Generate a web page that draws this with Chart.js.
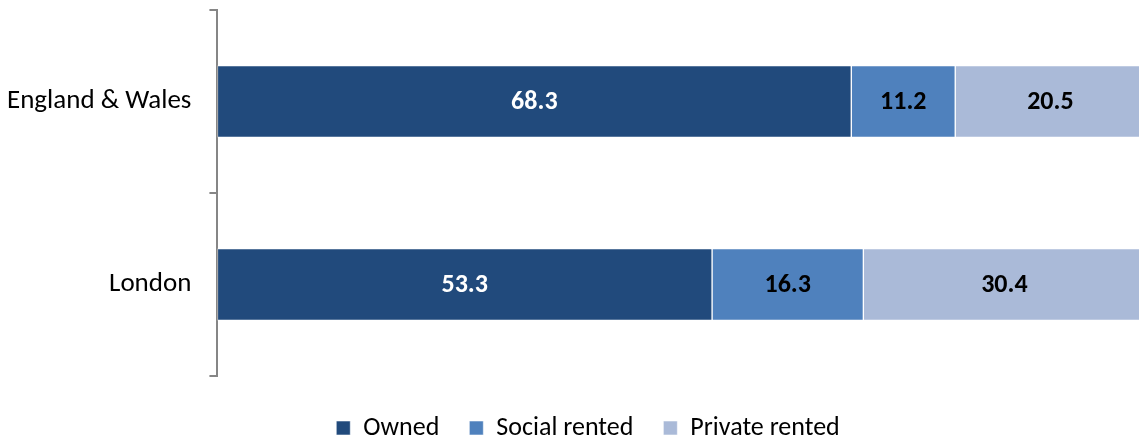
<!DOCTYPE html>
<html>
<head>
<meta charset="utf-8">
<script src="https://cdn.jsdelivr.net/npm/chart.js@4/dist/chart.umd.min.js"></script>
<style>
  html, body { margin: 0; padding: 0; background: #fff; }
  #wrap { position: relative; width: 1139px; height: 441px; }
</style>
</head>
<body>
<div id="wrap"><canvas id="chart"></canvas></div>
<script>
'use strict';

const regions = ['England & Wales', 'London'];
const owned = [68.3, 53.3];
const socialRented = [11.2, 16.3];
const privateRented = [20.5, 30.4];

const FONT = 'Carlito, Lato, "Open Sans", sans-serif';

// value labels in the middle of each segment
const barLabels = {
  id: 'barLabels',
  afterDatasetsDraw(chart) {
    const { ctx } = chart;
    ctx.save();
    ctx.font = 'bold 26px ' + FONT;
    ctx.textAlign = 'center';
    ctx.textBaseline = 'middle';
    chart.data.datasets.forEach((ds, i) => {
      chart.getDatasetMeta(i).data.forEach((bar, j) => {
        const p = bar.getCenterPoint();
        ctx.fillStyle = ds.labelColor;
        ctx.fillText(ds.data[j].toFixed(1), p.x, p.y + 1);
      });
    });
    ctx.restore();
  }
};

// the original legend sits a bit right of the page centre
const legendNudge = {
  id: 'legendNudge',
  afterLayout(chart) {
    chart.legend.left += 24;
    chart.legend.right += 24;
  }
};

new Chart(document.getElementById('chart'), {
  type: 'bar',
  data: {
    labels: regions,
    datasets: [
      { label: 'Owned', data: owned, backgroundColor: '#214a7c', labelColor: '#ffffff' },
      { label: 'Social rented', data: socialRented, backgroundColor: '#4f81bd', labelColor: '#000000' },
      { label: 'Private rented', data: privateRented, backgroundColor: '#aabad8', labelColor: '#000000' }
    ].map((d) => Object.assign(d, {
      borderColor: 'rgba(255,255,255,0.55)',
      borderWidth: 1,
      borderSkipped: false,
      barThickness: 72
    }))
  },
  options: {
    indexAxis: 'y',
    responsive: true,
    maintainAspectRatio: false,
    animation: false,
    layout: { padding: { top: 10, right: 0, left: -11, bottom: -10 } },
    plugins: {
      legend: {
        position: 'bottom',
        labels: {
          boxWidth: 14,
          boxHeight: 14,
          padding: 30,
          color: '#000',
          font: { family: FONT, size: 26 }
        }
      },
      tooltip: { enabled: false }
    },
    scales: {
      x: {
        stacked: true,
        min: 0,
        max: 99.3,
        border: { display: false },
        grid: { display: false, drawTicks: false },
        ticks: { display: false },
        // keeps a small gap between the plot and the legend
        afterFit(scale) { scale.height = 9; }
      },
      y: {
        stacked: true,
        border: { color: '#868686', width: 2 },
        grid: { offset: true, drawOnChartArea: false, tickLength: 8, color: '#868686', lineWidth: 2 },
        ticks: { color: '#000', padding: 18, font: { family: FONT, size: 27 } },
        // labels sit mid-category, so no extra room is needed above the axis
        afterFit(scale) { scale.paddingTop = 0; scale.paddingBottom = 0; }
      }
    }
  },
  plugins: [barLabels, legendNudge]
});
</script>
</body>
</html>
